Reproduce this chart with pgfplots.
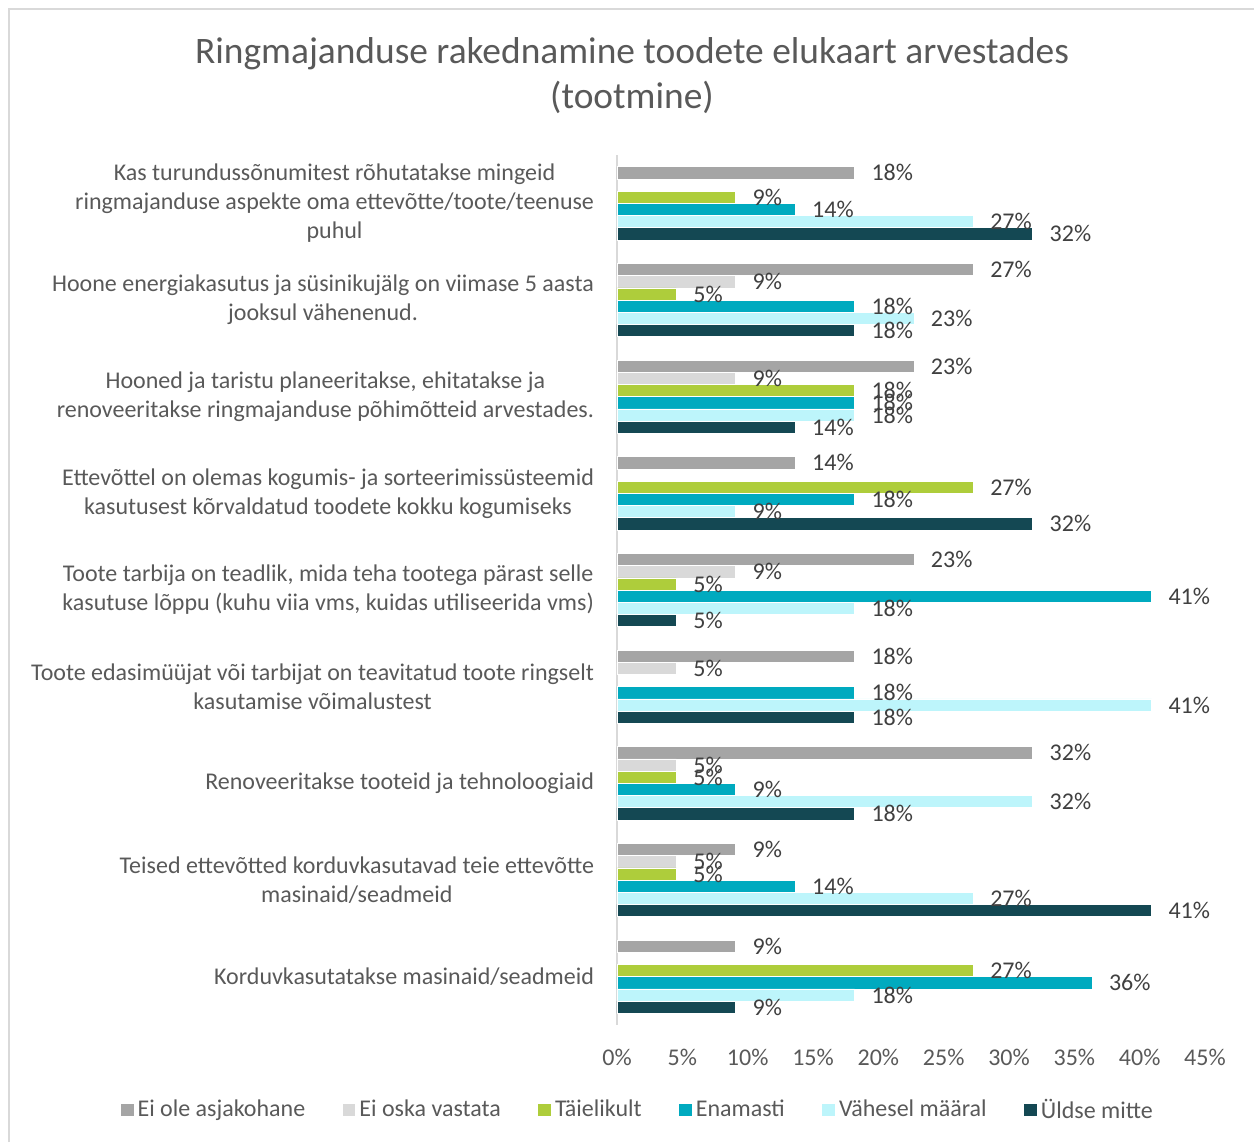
\documentclass[border=0pt]{standalone}
\usepackage{fontspec}
\setmainfont{Carlito}
\usepackage{pgfplots}
\pgfplotsset{compat=1.18}
\definecolor{cAsj}{HTML}{A5A5A5}
\definecolor{cOska}{HTML}{D9D9D9}
\definecolor{cTaie}{HTML}{AECD3B}
\definecolor{cEnam}{HTML}{00AABF}
\definecolor{cVahe}{HTML}{BDF5FB}
\definecolor{cYld}{HTML}{144853}
\definecolor{txt}{HTML}{595959}
\definecolor{lbl}{HTML}{404040}
\definecolor{frame}{HTML}{D9D9D9}
\begin{document}
\begin{tikzpicture}
\useasboundingbox (0,0) rectangle (627pt,571pt);
\draw[frame, line width=1pt] (4.5pt,0) -- (4.5pt,566.5pt) -- (627pt,566.5pt);
\node[align=center, text=txt, font=\fontsize{18.7}{22.5}\selectfont] at (316pt,533.25pt)
  {Ringmajanduse rakednamine toodete elukaart arvestades\\(tootmine)};
\begin{axis}[
  at={(308.5pt,58.5pt)}, anchor=south west,
  scale only axis, width=294pt, height=435pt,
  xbar, bar width=6.1pt,
  y dir=reverse,
  xmin=0, xmax=45, ymin=-0.5, ymax=8.5,
  xtick={0,5,...,45},
  xticklabel={\pgfmathprintnumber{\tick}\%},
  /pgf/number format/assume math mode=true,
  ytick={0,...,8},
  yticklabels={
    {Kas turundussõnumitest rõhutatakse mingeid\\ringmajanduse aspekte oma ettevõtte/toote/teenuse\\puhul},
    {Hoone energiakasutus ja süsinikujälg on viimase 5 aasta\\jooksul vähenenud.},
    {Hooned ja taristu planeeritakse, ehitatakse ja\\renoveeritakse ringmajanduse põhimõtteid arvestades.},
    {Ettevõttel on olemas kogumis- ja sorteerimissüsteemid\\kasutusest kõrvaldatud toodete kokku kogumiseks},
    {Toote tarbija on teadlik, mida teha tootega pärast selle\\kasutuse lõppu (kuhu viia vms, kuidas utiliseerida vms)},
    {Toote edasimüüjat või tarbijat on teavitatud toote ringselt\\kasutamise võimalustest},
    {Renoveeritakse tooteid ja tehnoloogiaid},
    {Teised ettevõtted korduvkasutavad teie ettevõtte\\masinaid/seadmeid},
    {Korduvkasutatakse masinaid/seadmeid}},
  yticklabel style={align=center, anchor=east, xshift=-8pt, text=txt,
    font=\fontsize{12}{14.5}\selectfont},
  xticklabel style={text=txt, font=\fontsize{12}{14.5}\selectfont, yshift=-8.5pt},
  axis lines*=left,
  x axis line style={draw=none},
  y axis line style={draw=frame, line width=1pt},
  major tick length=0pt,
  clip=false,
  every axis plot/.append style={draw=white, line width=0.3pt},
  nodes near coords={\pgfmathprintnumber[fixed,precision=0]{\pgfplotspointmeta}\%},
  point meta=x,
  every node near coord/.append style={anchor=west, xshift=5pt, text=lbl,
    font=\fontsize{12}{14.5}\selectfont},
  legend style={at={(0.037,-0.0977)}, anchor=center, draw=none, fill=none,
    legend columns=6, text=txt, font=\fontsize{12}{14.5}\selectfont,
    /tikz/every odd column/.append style={column sep=0pt},
    /tikz/every even column/.append style={column sep=16.7pt}},
  legend image code/.code={\fill[#1, draw=none] (0pt,-3.2pt) rectangle (6.4pt,3.2pt);},
]
\addplot[fill=cAsj, bar shift=15.25pt] coordinates {(18.18,0) (27.27,1) (22.73,2) (13.64,3) (22.73,4) (18.18,5) (31.82,6) (9.09,7) (9.09,8)};
\addlegendentry{Ei ole asjakohane}
\addplot[fill=cOska, bar shift=9.15pt] coordinates {(9.09,1) (9.09,2) (9.09,4) (4.55,5) (4.55,6) (4.55,7)};
\addlegendentry{Ei oska vastata}
\addplot[fill=cTaie, bar shift=3.05pt] coordinates {(9.09,0) (4.55,1) (18.18,2) (27.27,3) (4.55,4) (4.55,6) (4.55,7) (27.27,8)};
\addlegendentry{Täielikult}
\addplot[fill=cEnam, bar shift=-3.05pt] coordinates {(13.64,0) (18.18,1) (18.18,2) (18.18,3) (40.91,4) (18.18,5) (9.09,6) (13.64,7) (36.36,8)};
\addlegendentry{Enamasti}
\addplot[fill=cVahe, bar shift=-9.15pt] coordinates {(27.27,0) (22.73,1) (18.18,2) (9.09,3) (18.18,4) (40.91,5) (31.82,6) (27.27,7) (18.18,8)};
\addlegendentry{Vähesel määral}
\addplot[fill=cYld, bar shift=-15.25pt] coordinates {(31.82,0) (18.18,1) (13.64,2) (31.82,3) (4.55,4) (18.18,5) (18.18,6) (40.91,7) (9.09,8)};
\addlegendentry{Üldse mitte}
\end{axis}
\end{tikzpicture}
\end{document}
